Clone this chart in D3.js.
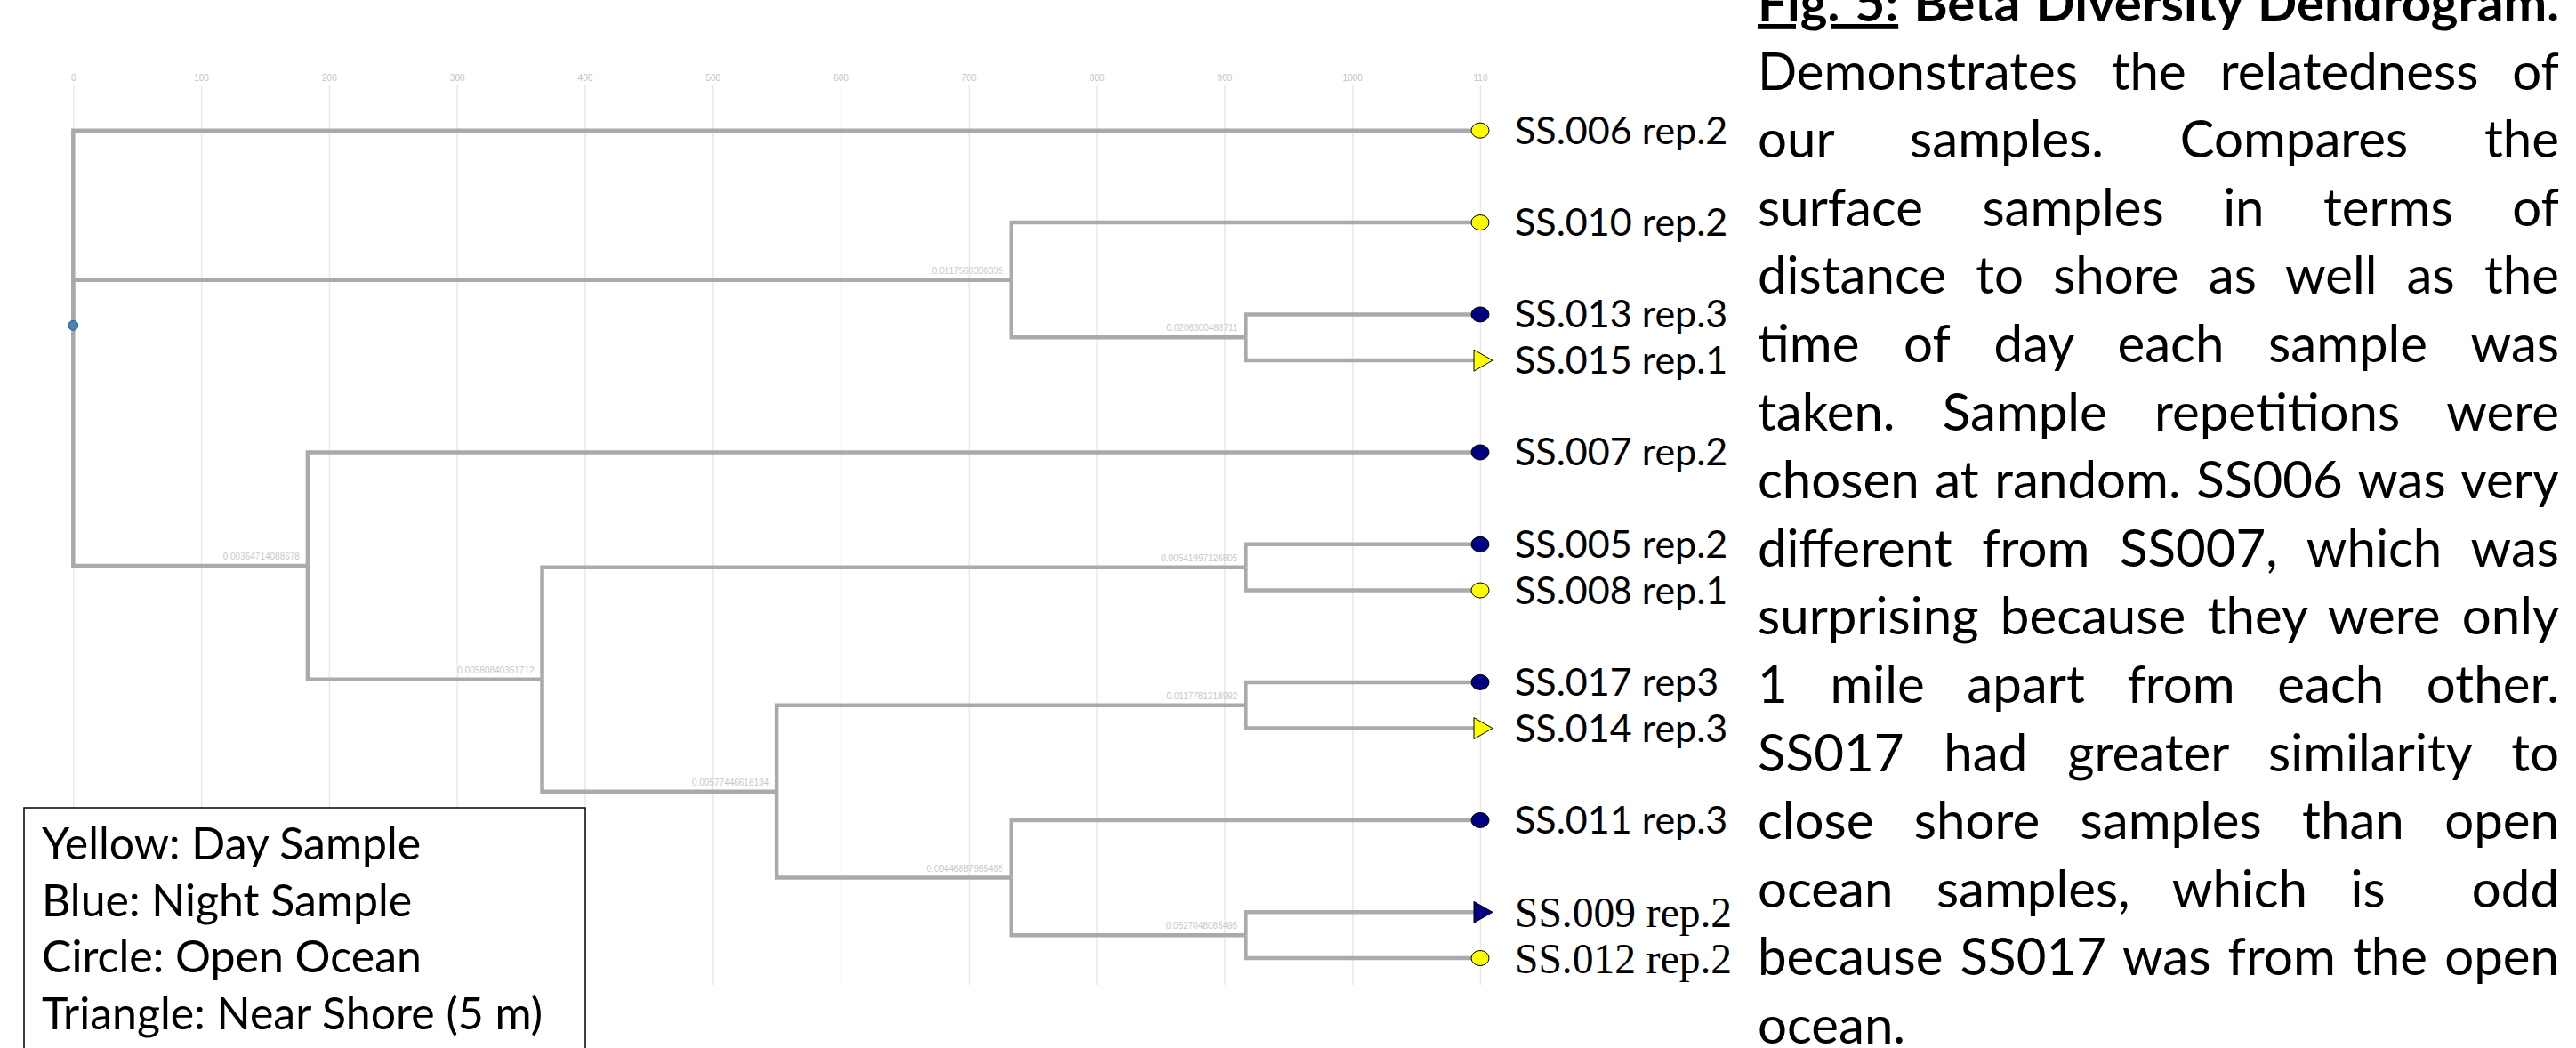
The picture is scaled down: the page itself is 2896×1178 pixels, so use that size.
<!DOCTYPE html>
<html>
<head>
<meta charset="utf-8">
<script src="https://cdn.jsdelivr.net/npm/d3@7"></script>
<style>
  body { margin: 0; background: #fff; }
  svg { display: block; }
</style>
</head>
<body>
<div id="chart"></div>
<script>
// leaves, listed top to bottom as they appear in the dendrogram
const sampleNames = ["SS.006 rep.2", "SS.010 rep.2", "SS.013 rep.3", "SS.015 rep.1", "SS.007 rep.2", "SS.005 rep.2",
  "SS.008 rep.1", "SS.017 rep3", "SS.014 rep.3", "SS.011 rep.3", "SS.009 rep.2", "SS.012 rep.2"];
const sampleParent = ["root", "n1", "n1a", "n1a", "n2", "n2b", "n2b", "n2d", "n2d", "n2e", "n2f", "n2f"];
const sampleTime = ["day", "day", "night", "day", "night", "night", "day", "night", "day", "night", "night", "day"];
const sampleSite = ["open", "open", "open", "shore", "open", "open", "open", "open", "shore", "open", "shore", "open"];

// internal clusters and the distance printed on each
const clusterIds = ["root", "n1", "n1a", "n2", "n2a", "n2b", "n2c", "n2d", "n2e", "n2f"];
const clusterParent = [null, "root", "n1", "root", "n2", "n2a", "n2a", "n2c", "n2c", "n2e"];
const clusterDistance = [null, "0.0117560300309", "0.0206300488711", "0.00364714088678", "0.00580840351712",
  "0.00541997126805", "0.00577446618134", "0.0117781218992", "0.00446887965465", "0.0527048085495"];

// top axis
const tickValues = [0, 100, 200, 300, 400, 500, 600, 700, 800, 900, 1000, 1100];
const tickLabels = ["0", "100", "200", "300", "400", "500", "600", "700", "800", "900", "1000", "110"];

const legendLines = ["Yellow: Day Sample", "Blue: Night Sample", "Circle: Open Ocean", "Triangle: Near Shore (5 m)"];

const captionTitle = ["Fig. 5:", " Beta Diversity Dendrogram."];
const captionLines = [
  "Demonstrates the relatedness of",
  "our samples. Compares the",
  "surface samples in terms of",
  "distance to shore as well as the",
  "time of day each sample was",
  "taken. Sample repetitions were",
  "chosen at random. SS006 was very",
  "different from SS007, which was",
  "surprising because they were only",
  "1 mile apart from each other.",
  "SS017 had greater similarity to",
  "close shore samples than open",
  "ocean samples, which is  odd",
  "because SS017 was from the open",
  "ocean."
];

// ---- styles ----
const serifLabels = new Set(["SS.009 rep.2", "SS.012 rep.2"]);
const fillByTime = { day: "#ffff00", night: "#000080" };
const sansFont = "Lato, 'Open Sans', sans-serif";

const width = 2896, height = 1178;

const svg = d3.select("#chart").append("svg")
  .attr("width", width)
  .attr("height", height)
  .style("background", "#fff");

// ---- hierarchy ----
const rows = clusterIds.map((id, i) => ({ id, parent: clusterParent[i], distance: clusterDistance[i] }))
  .concat(sampleNames.map((id, i) => ({ id, parent: sampleParent[i], time: sampleTime[i], site: sampleSite[i], leaf: i })));

const root = d3.stratify().id(d => d.id).parentId(d => d.parent)(rows);
const firstLeaf = n => d3.min(n.leaves(), l => l.data.leaf);
root.sort((a, b) => firstLeaf(a) - firstLeaf(b));

d3.cluster().size([1, 1100])(root);

const x = d3.scaleLinear().domain([0, 1100]).range([82.3, 1664]);
const y = d3.scaleLinear().domain([0, 1]).range([95, 1128.7]);

// ---- grid and tick labels ----
const gridTop = 95, gridBottom = 1107;
const axis = svg.append("g")
  .attr("transform", `translate(0,${gridTop})`)
  .call(d3.axisTop(x)
    .tickValues(tickValues)
    .tickFormat((d, i) => tickLabels[i])
    .tickSizeInner(-(gridBottom - gridTop))
    .tickSizeOuter(0)
    .tickPadding(4));
axis.select(".domain").remove();
axis.selectAll(".tick line").attr("stroke", "#e8e8e8").attr("stroke-width", 1.5);
axis.selectAll(".tick text")
  .attr("fill", "#c4c4c4")
  .attr("font-size", 10)
  .attr("font-family", "'Liberation Sans', Arial, sans-serif");

// ---- elbow links ----
svg.append("g")
  .selectAll("path")
  .data(root.links())
  .join("path")
  .attr("d", d => `M${x(d.source.y)},${y(d.source.x)}V${y(d.target.x)}H${x(d.target.y)}`)
  .attr("fill", "none")
  .attr("stroke", "#aaa")
  .attr("stroke-width", 4.5);

// ---- distance labels on inner clusters ----
svg.append("g")
  .selectAll("text")
  .data(root.descendants().filter(d => d.children && d.parent))
  .join("text")
  .attr("x", d => x(d.y) - 9)
  .attr("y", d => y(d.x) - 7)
  .attr("text-anchor", "end")
  .attr("font-family", "'Liberation Sans', Arial, sans-serif")
  .attr("font-size", 10)
  .attr("fill", "#c8c8c8")
  .text(d => d.data.distance);

// root dot
svg.append("circle")
  .attr("cx", x(root.y))
  .attr("cy", y(root.x))
  .attr("r", 5.5)
  .attr("fill", "#4682b4")
  .attr("stroke", "#2f5f8a");

// ---- leaves ----
const leaf = svg.append("g")
  .selectAll("g")
  .data(root.leaves())
  .join("g")
  .attr("transform", d => `translate(${x(d.y)},${y(d.x)})`);

leaf.filter(d => d.data.site === "open").append("ellipse")
  .attr("rx", 10)
  .attr("ry", 8.5)
  .attr("fill", d => fillByTime[d.data.time])
  .attr("stroke", "#000")
  .attr("stroke-width", 1);

leaf.filter(d => d.data.site === "shore").append("path")
  .attr("d", "M-7,-12L-7,12L14,0Z")
  .attr("fill", d => fillByTime[d.data.time])
  .attr("stroke", "#000")
  .attr("stroke-width", 1);

leaf.append("text")
  .attr("x", 39)
  .attr("dy", d => serifLabels.has(d.data.id) ? 17 : 15)
  .attr("font-family", d => serifLabels.has(d.data.id) ? "'Liberation Serif', 'Times New Roman', serif" : sansFont)
  .attr("font-size", d => serifLabels.has(d.data.id) ? 47.5 : 43)
  .attr("fill", "#000")
  .text(d => d.data.id);

// ---- legend box ----
const legend = svg.append("g");
legend.append("rect")
  .attr("x", 27)
  .attr("y", 908)
  .attr("width", 631)
  .attr("height", 320)
  .attr("fill", "#fff")
  .attr("stroke", "#000")
  .attr("stroke-width", 1.5);
legend.selectAll("text")
  .data(legendLines)
  .join("text")
  .attr("x", 47)
  .attr("y", (d, i) => 966 + i * 63.7)
  .attr("font-family", sansFont)
  .attr("font-size", 50)
  .attr("fill", "#000")
  .text(d => d);

// ---- justified caption ----
const capLeft = 1976, capRight = 2877, capTop = 24, capPitch = 76.6;
const capWidth = capRight - capLeft;
const caption = svg.append("g")
  .attr("font-family", sansFont)
  .attr("fill", "#000");

const title = caption.append("text")
  .attr("x", capLeft)
  .attr("y", capTop)
  .attr("font-weight", "bold");
title.append("tspan").attr("text-decoration", "underline").text(captionTitle[0]);
title.append("tspan").text(captionTitle[1]);

const body = caption.selectAll("text.line")
  .data(captionLines)
  .join("text")
  .attr("class", "line")
  .attr("xml:space", "preserve")
  .style("white-space", "pre")
  .attr("x", capLeft)
  .attr("y", (d, i) => capTop + (i + 1) * capPitch)
  .text(d => d);

// fit the font so the tightest line is almost natural width, like the original
let fontSize = 64;
caption.attr("font-size", fontSize);
const widest = d3.max(body.nodes().slice(0, -1), n => n.getComputedTextLength());
fontSize = fontSize * capWidth * 0.985 / widest;
caption.attr("font-size", fontSize);

function justify(sel) {
  sel.each(function () {
    const gaps = (this.textContent.match(/ /g) || []).length;
    const w = this.getComputedTextLength();
    if (gaps) d3.select(this).attr("word-spacing", (capWidth - w) / gaps);
  });
}
justify(title);
justify(body.filter((d, i) => i < captionLines.length - 1));
</script>
</body>
</html>
